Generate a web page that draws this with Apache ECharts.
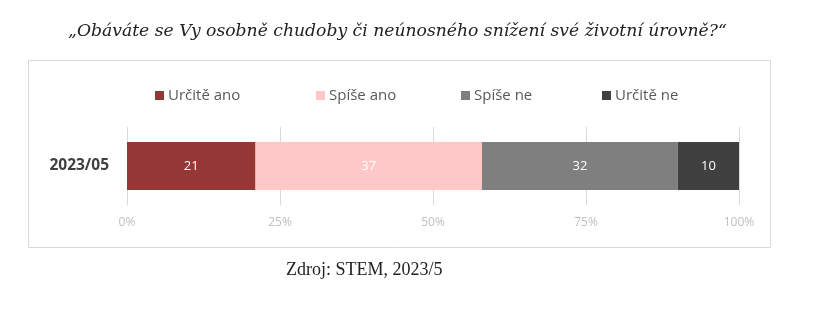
<!DOCTYPE html>
<html>
<head>
<meta charset="utf-8">
<script src="https://cdn.jsdelivr.net/npm/echarts@6/dist/echarts.min.js"></script>
<style>
html,body{margin:0;padding:0;background:#fff;}
#chart{width:814px;height:322px;}
</style>
</head>
<body>
<div id="chart"></div>
<script>
// Survey wave and answer shares (%)
const categories = ['2023/05'];
const seriesNames = ['Určitě ano', 'Spíše ano', 'Spíše ne', 'Určitě ne'];
const urciteAno = [21];
const spiseAno = [37];
const spiseNe = [32];
const urciteNe = [10];
const tickLabels = ['0%', '25%', '50%', '75%', '100%'];

const colors = ['#953735', '#ffc8c8', '#7f7f7f', '#404040'];
const values = [urciteAno, spiseAno, spiseNe, urciteNe];
// left edge of each legend entry
const legendLeft = [155, 316, 461, 602];

const sans = '"Open Sans", "Liberation Sans", sans-serif';
const serif = '"DejaVu Serif", Georgia, serif';

const chart = echarts.init(document.getElementById('chart'));
chart.setOption({
  backgroundColor: '#ffffff',
  animation: false,
  graphic: [
    {
      type: 'rect',
      shape: { x: 28.5, y: 60.5, width: 742, height: 187 },
      style: { fill: 'none', stroke: '#d9d9d9', lineWidth: 1 },
      z: 0
    },
    {
      type: 'text',
      left: 68, top: 23,
      style: {
        text: '„Obáváte se Vy osobně chudoby či neúnosného snížení své životní úrovně?“',
        font: 'italic 17.2px ' + serif,
        fill: '#222222'
      }
    },
    {
      type: 'text',
      left: 286, top: 261,
      style: {
        text: 'Zdroj: STEM, 2023/5',
        font: '18px "Liberation Serif", serif',
        fill: '#222222'
      }
    }
  ],
  legend: seriesNames.map((name, i) => ({
    data: [name],
    top: 88,
    left: legendLeft[i],
    padding: 0,
    itemWidth: 9,
    itemHeight: 9,
    itemGap: 4,
    icon: 'rect',
    textStyle: { fontFamily: sans, fontSize: 15, color: '#595959', padding: [0, 0, 0, -1] }
  })),
  grid: { left: 127, right: 75, top: 127, bottom: 117 },
  xAxis: {
    type: 'value',
    min: 0,
    max: 100,
    interval: 25,
    axisLine: { show: false },
    axisTick: { show: false },
    splitLine: { show: true, lineStyle: { color: '#d9d9d9', width: 1 } },
    axisLabel: {
      margin: 12,
      color: '#bfbfbf',
      fontFamily: sans,
      fontSize: 12,
      formatter: v => tickLabels[Math.round(v / 25)]
    }
  },
  yAxis: {
    type: 'category',
    data: categories,
    axisLine: { show: false },
    axisTick: { show: false },
    axisLabel: {
      margin: 18,
      color: '#404040',
      fontFamily: sans,
      fontWeight: 'bold',
      fontSize: 15.5
    }
  },
  series: seriesNames.map((name, i) => ({
    name: name,
    type: 'bar',
    stack: 'total',
    barWidth: 48,
    data: values[i],
    itemStyle: { color: colors[i] },
    label: {
      show: true,
      position: 'inside',
      color: '#ffffff',
      fontFamily: sans,
      fontSize: 13
    }
  }))
});
</script>
</body>
</html>
